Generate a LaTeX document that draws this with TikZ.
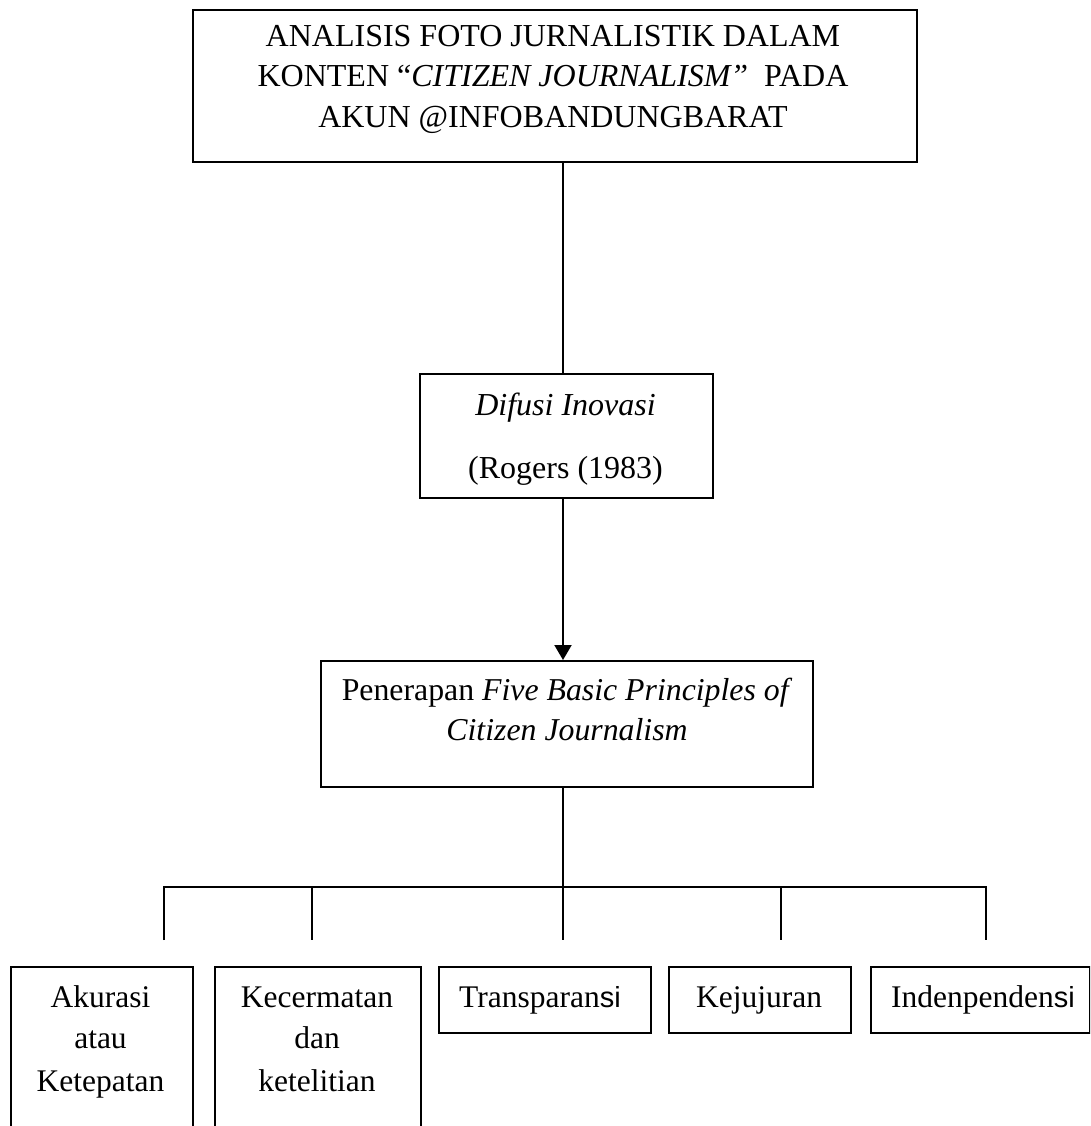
\documentclass[tikz,border=0pt]{standalone}
\usepackage{fontspec}
\setmainfont{Liberation Serif}
\newfontfamily\altsans{Liberation Sans}
\usetikzlibrary{arrows.meta}
\tikzset{
  x=1pt, y=-1pt,
  boxnode/.style={draw=black, line width=2pt, rectangle, inner sep=0pt, anchor=north west},
  link/.style={draw=black, line width=2pt},
  titletext/.style={anchor=base, inner sep=0pt, font=\fontsize{32}{38}\selectfont},
  midtext/.style={anchor=base, inner sep=0pt, font=\fontsize{31.8}{38}\selectfont},
  leaftext/.style={anchor=base, inner sep=0pt, font=\fontsize{31.5}{36}\selectfont},
}
\begin{document}
\begin{tikzpicture}
\useasboundingbox (0,0) rectangle (1090,1126);
\clip (0,0) rectangle (1090,1126);
% boxes
\node[boxnode, minimum width=724pt, minimum height=152pt] (top) at (192,9) {};
\node[boxnode, minimum width=293pt, minimum height=124pt] (mid) at (419,373) {};
\node[boxnode, minimum width=492pt, minimum height=126pt] (pen) at (320,660) {};
\node[boxnode, minimum width=182pt, minimum height=200pt] (l1) at (10,966) {};
\node[boxnode, minimum width=206pt, minimum height=200pt] (l2) at (214,966) {};
\node[boxnode, minimum width=212pt, minimum height=66pt] (l3) at (438,966) {};
\node[boxnode, minimum width=182pt, minimum height=66pt] (l4) at (668,966) {};
\node[boxnode, minimum width=219pt, minimum height=66pt] (l5) at (870,966) {};
% texts
\node[titletext] (t1) at (553,47) {ANALISIS FOTO JURNALISTIK DALAM};
\node[titletext] (t2) at (553,87) {KONTEN “\textit{CITIZEN JOURNALISM”}\ \ PADA};
\node[titletext] (t3) at (553,128) {AKUN @INFOBANDUNGBARAT};
\node[titletext] (d1) at (565.5,415) {\textit{Difusi Inovasi}};
\node[titletext] (d2) at (565.5,478) {(Rogers (1983)};
\node[midtext] (p1) at (567,700) {Penerapan \textit{Five Basic Principles of}};
\node[midtext] (p2) at (567,740) {\textit{Citizen Journalism}};
\node[leaftext] (a1) at (100.5,1007) {Akurasi};
\node[leaftext] (a2) at (100.5,1048) {atau};
\node[leaftext] (a3) at (100.5,1091) {Ketepatan};
\node[leaftext] (k1) at (317,1007) {Kecermatan};
\node[leaftext] (k2) at (317,1048) {dan};
\node[leaftext] (k3) at (317,1091) {ketelitian};
\node[leaftext, anchor=base west] (tr) at (459,1007) {Transparan{\altsans\fontsize{29}{34}\selectfont si}};
\node[leaftext] (kj) at (759,1007) {Kejujuran};
\node[leaftext, anchor=base west] (in) at (891,1007) {Indenpenden{\altsans\fontsize{29}{34}\selectfont si}};
% connectors
\coordinate (spine) at (563,887);
\draw[link] (top.south -| spine) -- (mid.north -| spine);
\draw[link, -{Triangle[width=17pt,length=15pt]}] (mid.south -| spine) -- (pen.north -| spine);
\draw[link] (pen.south -| spine) -- (spine);
\coordinate (b1) at (164,887);
\coordinate (b2) at (312,887);
\coordinate (b4) at (781,887);
\coordinate (b5) at (986,887);
\coordinate (e1) at (164,940);
\coordinate (e2) at (312,940);
\coordinate (e3) at (563,940);
\coordinate (e4) at (781,940);
\coordinate (e5) at (986,940);
\draw[link] (e1) -- (b1) -- (b5) -- (e5);
\draw[link] (b2) -- (e2);
\draw[link] (spine) -- (e3);
\draw[link] (b4) -- (e4);
\end{tikzpicture}
\end{document}
